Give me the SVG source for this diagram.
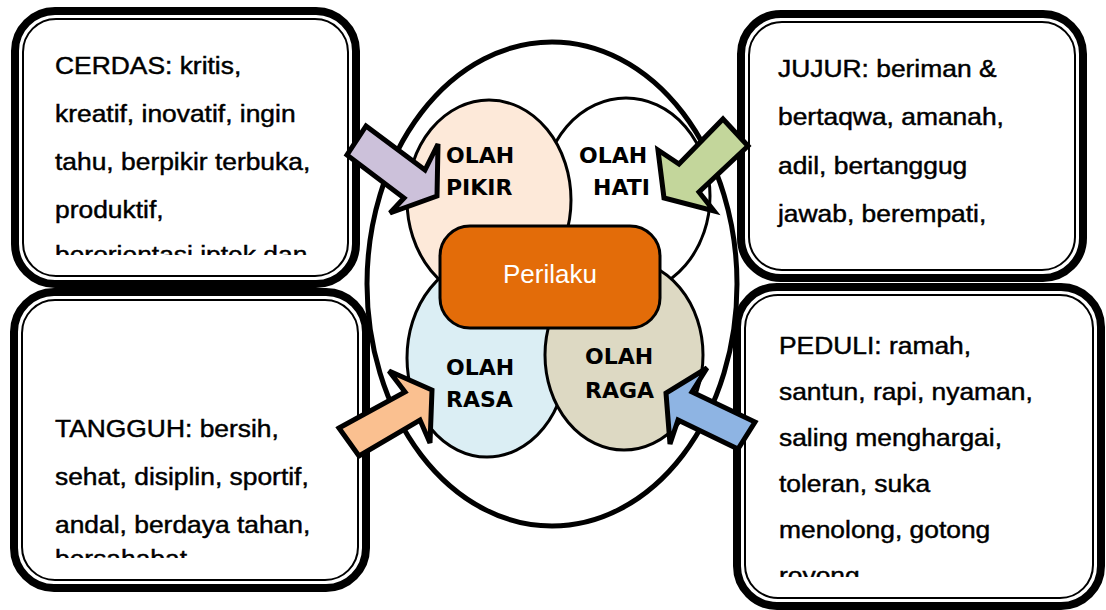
<svg xmlns="http://www.w3.org/2000/svg" width="1106" height="610" viewBox="0 0 1106 610">
<style>
.bo{fill:#fff;stroke:#000;stroke-width:8}
.bi{fill:none;stroke:#000;stroke-width:2}
.t{font-family:"Liberation Sans",Arial,sans-serif;font-size:24px;fill:#000;stroke:#000;stroke-width:0.45}
.ol{font-family:"DejaVu Sans",sans-serif;font-weight:bold;font-size:22px;fill:#000}
.el{stroke:#000;stroke-width:3}
.ar{stroke:#000;stroke-width:5;stroke-linejoin:miter}
</style>
<defs>
<clipPath id="cTL"><rect x="25" y="25" width="320" height="230"/></clipPath>
<clipPath id="cBL"><rect x="25" y="305" width="330" height="253"/></clipPath>
<clipPath id="cTR"><rect x="752" y="25" width="320" height="230"/></clipPath>
<clipPath id="cBR"><rect x="750" y="300" width="340" height="277"/></clipPath>
</defs>
<rect width="1106" height="610" fill="#fff"/>
<g id="box-cerdas">
<rect class="bo" x="15" y="11" width="341" height="273" rx="40"/>
<rect class="bi" x="23" y="19" width="325" height="257" rx="33"/>
<g clip-path="url(#cTL)"><g transform="translate(55,0) scale(1.1,1)">
<text class="t" x="0" y="74">CERDAS: kritis,</text>
<text class="t" x="0" y="122">kreatif, inovatif, ingin</text>
<text class="t" x="0" y="170">tahu, berpikir terbuka,</text>
<text class="t" x="0" y="218">produktif,</text>
<text class="t" x="0" y="263">berorientasi iptek dan</text>
</g></g>
</g>
<g id="box-tangguh">
<rect class="bo" x="14" y="292" width="352" height="296" rx="40"/>
<rect class="bi" x="22" y="300" width="336" height="280" rx="33"/>
<g clip-path="url(#cBL)"><g transform="translate(55,0) scale(1.1,1)">
<text class="t" x="0" y="437">TANGGUH: bersih,</text>
<text class="t" x="0" y="485">sehat, disiplin, sportif,</text>
<text class="t" x="0" y="533">andal, berdaya tahan,</text>
<text class="t" x="0" y="567">bersahabat</text>
</g></g>
</g>
<g id="box-jujur">
<rect class="bo" x="741" y="14" width="342" height="264" rx="40"/>
<rect class="bi" x="749" y="22" width="326" height="248" rx="33"/>
<g clip-path="url(#cTR)"><g transform="translate(778,0) scale(1.1,1)">
<text class="t" x="0" y="77">JUJUR: beriman &amp;</text>
<text class="t" x="0" y="125">bertaqwa, amanah,</text>
<text class="t" x="0" y="174">adil, bertanggug</text>
<text class="t" x="0" y="222">jawab, berempati,</text>
</g></g>
</g>
<g id="box-peduli">
<rect class="bo" x="737" y="287" width="364" height="319" rx="40"/>
<rect class="bi" x="745" y="295" width="348" height="303" rx="33"/>
<g clip-path="url(#cBR)"><g transform="translate(779,0) scale(1.1,1)">
<text class="t" x="0" y="354">PEDULI: ramah,</text>
<text class="t" x="0" y="400">santun, rapi, nyaman,</text>
<text class="t" x="0" y="446">saling menghargai,</text>
<text class="t" x="0" y="492">toleran, suka</text>
<text class="t" x="0" y="538">menolong, gotong</text>
<text class="t" x="0" y="584">royong</text>
</g></g>
</g>
<g id="outer-ellipse">
<ellipse cx="552" cy="284" rx="185" ry="242" fill="none" stroke="#000" stroke-width="5"/>
</g>
<g id="olah-hati">
<ellipse class="el" cx="626" cy="196" rx="84" ry="98" fill="#fff"/>
</g>
<g id="olah-pikir">
<ellipse class="el" cx="489" cy="200" rx="82" ry="100" fill="#FDE9D9"/>
</g>
<g id="olah-rasa">
<ellipse class="el" cx="487" cy="358" rx="80" ry="99" fill="#DBEEF4"/>
</g>
<g id="olah-raga">
<ellipse class="el" cx="624" cy="355" rx="79" ry="95" fill="#DDD9C3"/>
</g>
<g id="labels">
<text class="ol" x="446" y="163">OLAH</text>
<text class="ol" x="446" y="195">PIKIR</text>
<text class="ol" x="579" y="163">OLAH</text>
<text class="ol" x="593" y="195">HATI</text>
<text class="ol" x="446" y="375">OLAH</text>
<text class="ol" x="446" y="407">RASA</text>
<text class="ol" x="585" y="364">OLAH</text>
<text class="ol" x="585" y="398">RAGA</text>
</g>
<g id="perilaku">
<rect x="440" y="226" width="220" height="102" rx="30" fill="#E36C09" stroke="#000" stroke-width="3"/>
<text x="550" y="283" text-anchor="middle" font-family="Liberation Sans, Arial, sans-serif" font-size="26" fill="#fff">Perilaku</text>
</g>
<g id="connectors">
<polygon class="ar" fill="#CCC1DA" points="366,126 425,170 438,144 437,196 390,213 404,198 347,155"/>
<polygon class="ar" fill="#C3D69B" points="723,119 748,146 699,192 714,211 664,198 658,150 679,164"/>
<polygon class="ar" fill="#FAC090" points="339,428 405,392 389,371 432,390 430,443 420,420 359,456"/>
<polygon class="ar" fill="#8EB4E3" points="707,368 692,392 755,422 738,449 678,420 670,444 666,393"/>
</g>
</svg>
